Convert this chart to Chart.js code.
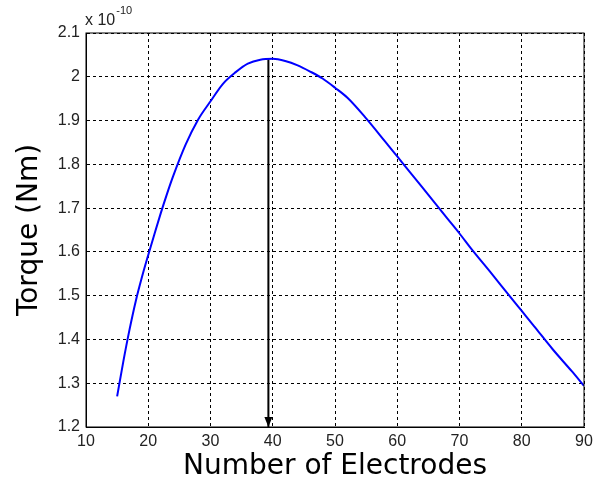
<!DOCTYPE html>
<html>
<head>
<meta charset="utf-8">
<script src="https://cdn.jsdelivr.net/npm/chart.js@4.4.1/dist/chart.umd.min.js"></script>
<style>
  html, body { margin: 0; padding: 0; background: #fff; }
  #wrap { width: 605px; height: 487px; }
</style>
</head>
<body>
<div id="wrap"><canvas id="torqueChart" width="605" height="487"></canvas></div>
<script>
// Number of electrodes vs torque (values in units of 1e-10 Nm)
const electrodes = [15, 16, 17, 18, 19, 20, 21, 22, 23, 24, 26, 28, 30, 32, 34, 36, 38, 40, 42, 44, 46, 48, 50, 52, 55, 58, 60, 62, 65, 68, 70, 72, 75, 78, 80, 82, 85, 88, 90];
const torque = [1.27, 1.35, 1.423, 1.488, 1.543, 1.593, 1.641, 1.688, 1.732, 1.773, 1.845, 1.902, 1.944, 1.984, 2.01, 2.03, 2.039, 2.041, 2.036, 2.026, 2.012, 1.996, 1.975, 1.952, 1.905, 1.853, 1.818, 1.783, 1.73, 1.677, 1.642, 1.605, 1.553, 1.50, 1.465, 1.43, 1.377, 1.328, 1.294];

// optimum marker arrow
const arrowX = [39.3, 39.3];
const arrowY = [2.04, 1.2];

const xTicks = [10, 20, 30, 40, 50, 60, 70, 80, 90];
const yTicks = [1.2, 1.3, 1.4, 1.5, 1.6, 1.7, 1.8, 1.9, 2.0, 2.1];

const tickFont = { family: "'Liberation Sans', Arial, sans-serif", size: 16 };
const titleFont = { family: "'DejaVu Sans', sans-serif", size: 28 };

// box around plot + exponent label + arrow head
const boxPlugin = {
  id: "boxPlugin",
  afterDatasetsDraw(chart) {
    const { ctx, scales } = chart;
    const hx = scales.x.getPixelForValue(arrowX[1]);
    const hy = scales.y.getPixelForValue(arrowY[1]);
    ctx.save();
    ctx.fillStyle = "#000";
    ctx.beginPath();
    ctx.moveTo(hx, hy);
    ctx.lineTo(hx - 4, hy - 10);
    ctx.lineTo(hx + 4, hy - 10);
    ctx.closePath();
    ctx.fill();
    ctx.restore();
  },
  afterDraw(chart) {
    const { ctx, chartArea } = chart;
    ctx.save();
    ctx.strokeStyle = "#000";
    ctx.lineWidth = 1;
    ctx.strokeRect(chartArea.left, chartArea.top, chartArea.right - chartArea.left, chartArea.bottom - chartArea.top);

    ctx.fillStyle = "#222";
    ctx.textBaseline = "alphabetic";
    ctx.font = "16px 'Liberation Sans', Arial, sans-serif";
    ctx.fillText("x 10", chartArea.left - 1, 25);
    const w = ctx.measureText("x 10").width;
    ctx.font = "11px 'Liberation Sans', Arial, sans-serif";
    ctx.fillText("-10", chartArea.left - 1 + w + 1, 14);
    ctx.restore();
  },
};

new Chart(document.getElementById("torqueChart"), {
  type: "line",
  data: {
    datasets: [
      {
        data: electrodes.map((x, i) => ({ x: x, y: torque[i] })),
        borderColor: "#0000ff",
        borderWidth: 2,
        pointRadius: 0,
        cubicInterpolationMode: "monotone",
        fill: false,
      },
      {
        data: arrowX.map((x, i) => ({ x: x, y: arrowY[i] })),
        borderColor: "#000",
        borderWidth: 2,
        pointRadius: 0,
        fill: false,
      },
    ],
  },
  options: {
    responsive: false,
    animation: false,
    events: [],
    layout: { padding: { left: 0, right: 21, top: 33, bottom: 0 } },
    plugins: {
      legend: { display: false },
      tooltip: { enabled: false },
    },
    scales: {
      x: {
        type: "linear",
        min: 10,
        max: 90,
        afterBuildTicks: (scale) => { scale.ticks = xTicks.map((v) => ({ value: v })); },
        afterFit: (scale) => { scale.height = 60; },
        ticks: { color: "#222", font: tickFont, padding: 5, maxRotation: 0 },
        grid: { color: "#000", lineWidth: 1, drawTicks: false },
        border: { display: true, color: "#000", width: 1, dash: [3, 3] },
        title: {
          display: true,
          text: "Number of Electrodes",
          color: "#000",
          font: titleFont,
          padding: { top: 0, bottom: 3 },
        },
      },
      y: {
        type: "linear",
        min: 1.2,
        max: 2.1,
        afterBuildTicks: (scale) => { scale.ticks = yTicks.map((v) => ({ value: v })); },
        afterFit: (scale) => { scale.width = 86; },
        ticks: {
          color: "#222",
          font: tickFont,
          padding: 6,
          callback: (v) => String(Number(v.toFixed(1))),
        },
        grid: { color: "#000", lineWidth: 1, drawTicks: false },
        border: { display: true, color: "#000", width: 1, dash: [3, 3] },
        title: {
          display: true,
          text: "Torque (Nm)",
          color: "#000",
          font: titleFont,
          padding: { top: 13, bottom: 0 },
        },
      },
    },
  },
  plugins: [boxPlugin],
});
</script>
</body>
</html>
